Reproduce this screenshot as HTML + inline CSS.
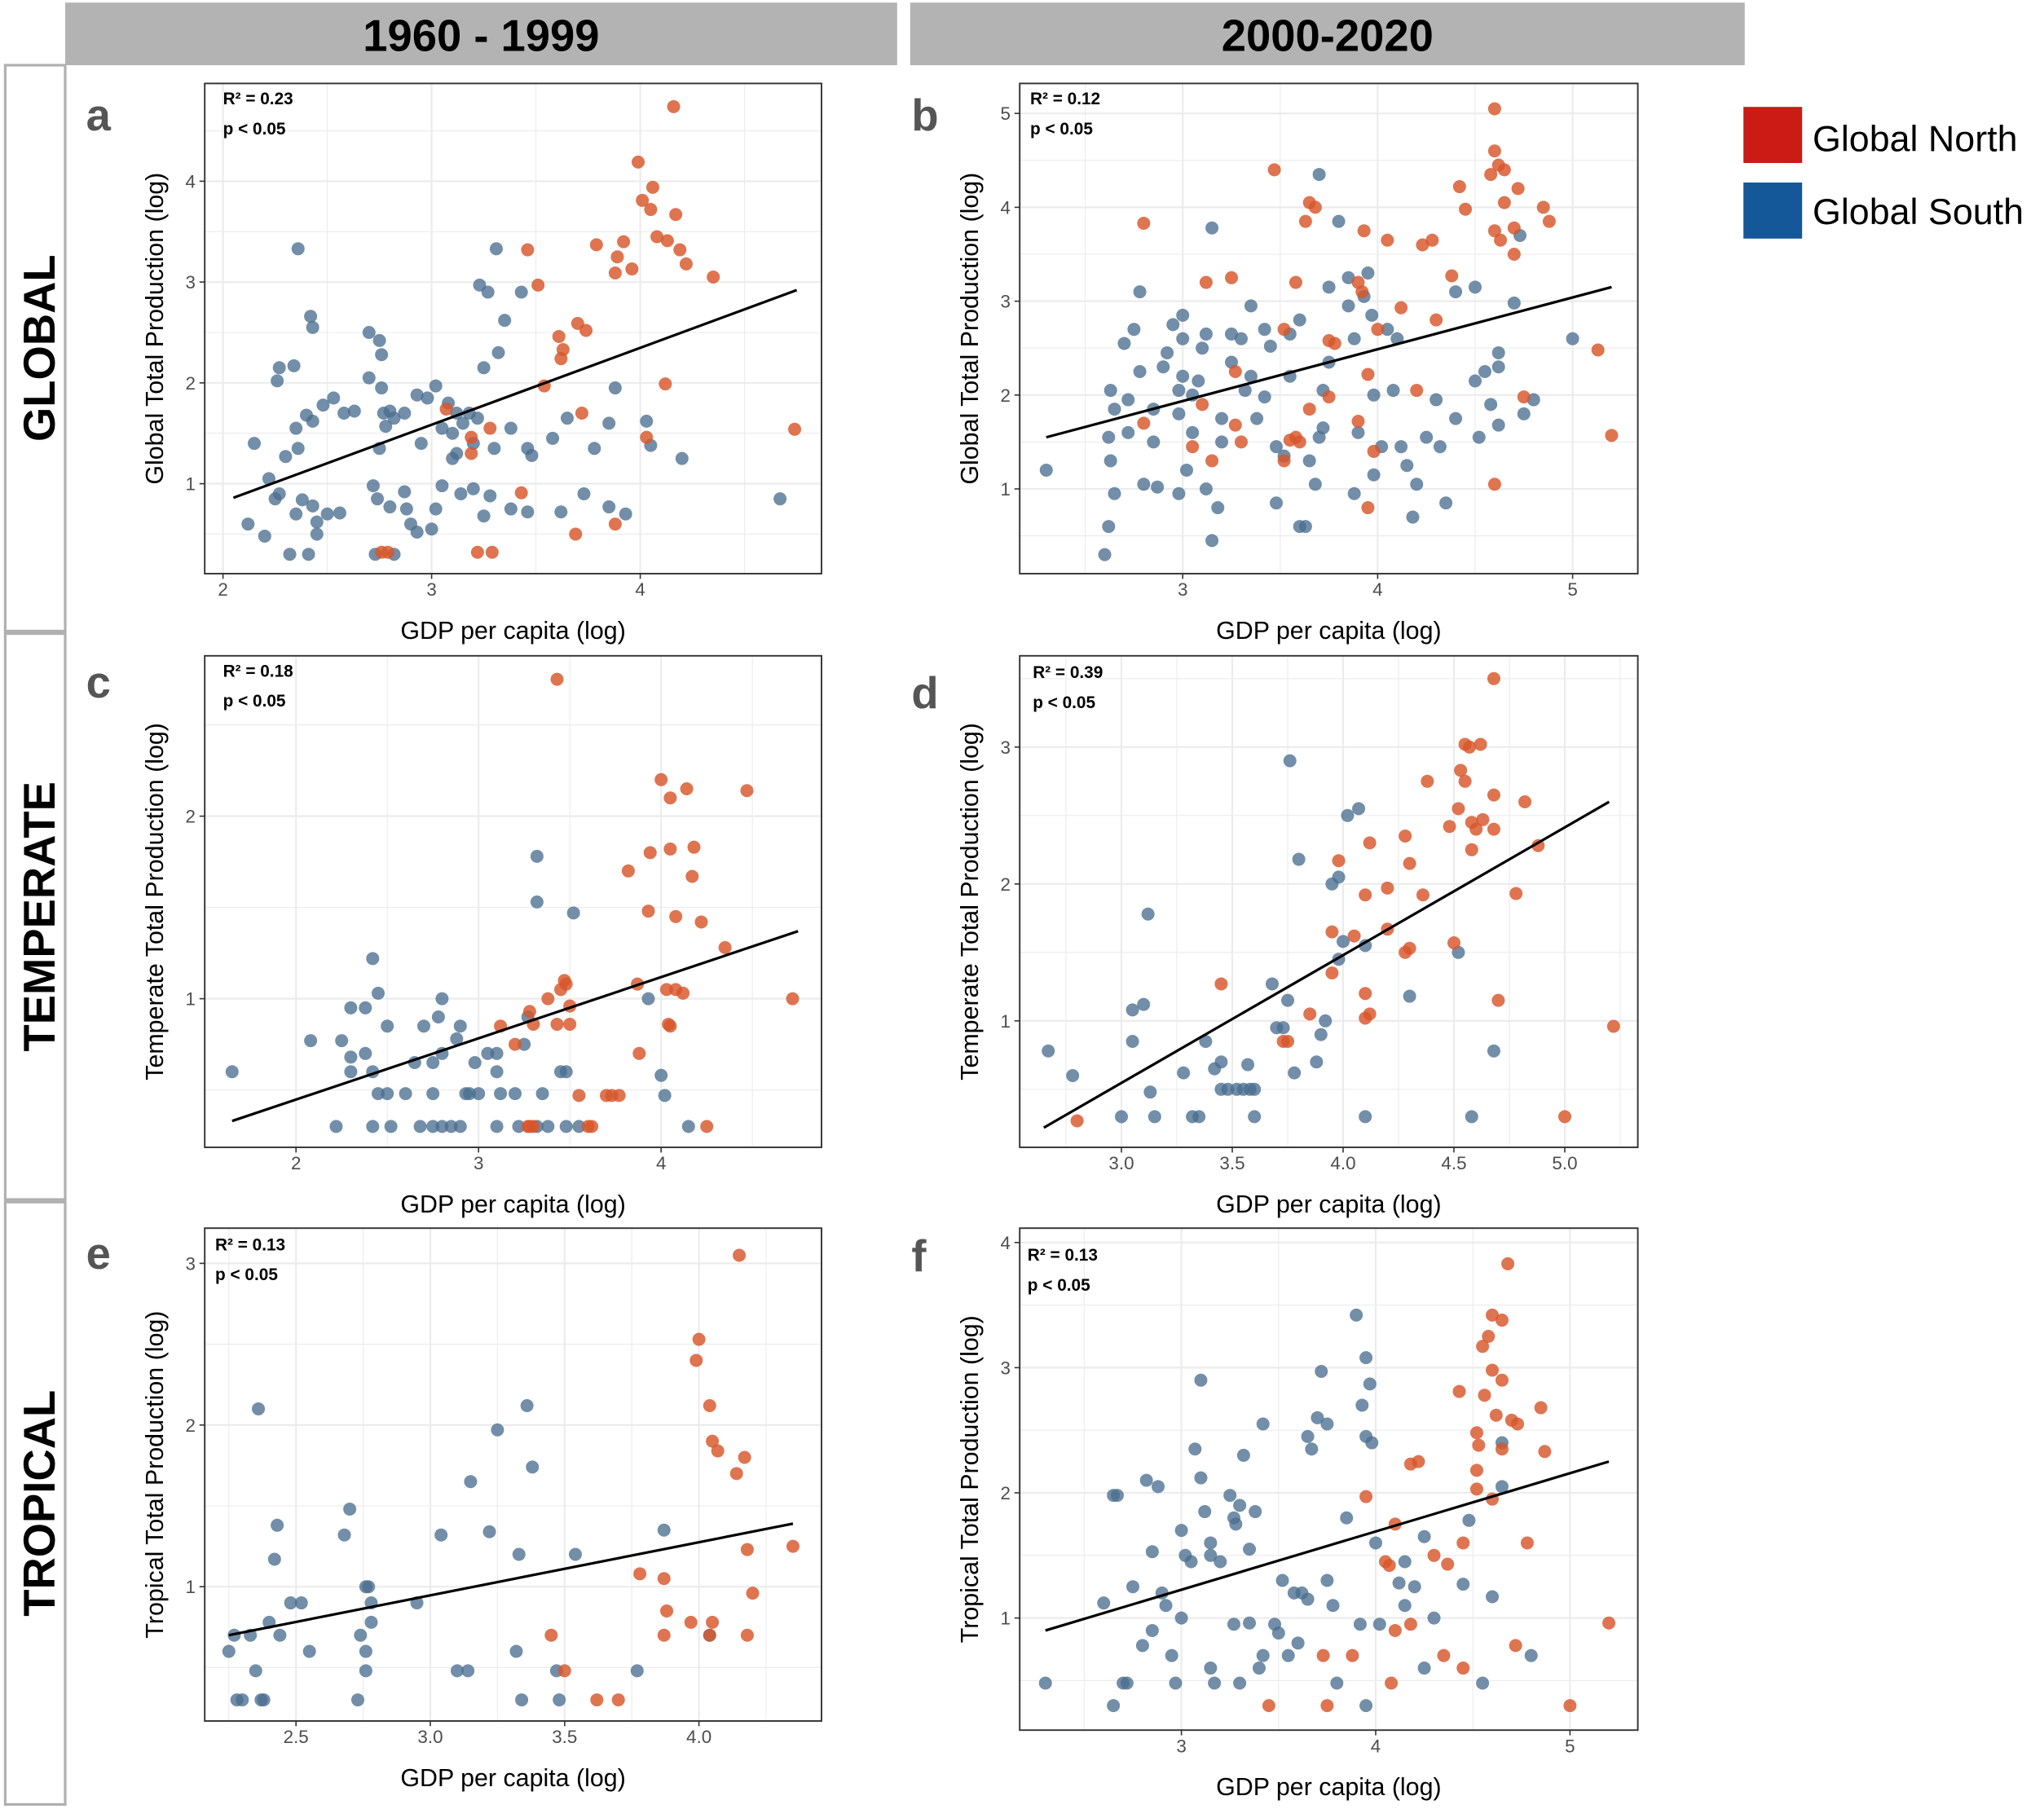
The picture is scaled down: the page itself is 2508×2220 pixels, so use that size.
<!DOCTYPE html>
<html><head><meta charset="utf-8"><style>
html,body{margin:0;padding:0;background:#fff;}
svg{display:block;font-family:"Liberation Sans",Arial,sans-serif;}
</style></head><body>
<svg id="fig" width="2508" height="2220" viewBox="0 0 1567.5 1387.5" xmlns="http://www.w3.org/2000/svg">
<rect x="0" y="0" width="1567.5" height="1387.5" fill="#fff"/>
<rect x="50" y="2" width="638" height="48" fill="#b3b3b3"/>
<text x="369" y="39" font-size="34" font-weight="bold" text-anchor="middle">1960 - 1999</text>
<rect x="698" y="2" width="640" height="48" fill="#b3b3b3"/>
<text x="1018" y="39" font-size="34" font-weight="bold" text-anchor="middle">2000-2020</text>
<rect x="4" y="50" width="46" height="434" fill="#fff" stroke="#b0b0b0" stroke-width="2"/>
<text transform="translate(42,267) rotate(-90)" font-size="34" font-weight="bold" text-anchor="middle">GLOBAL</text>
<rect x="4" y="486" width="46" height="434" fill="#fff" stroke="#b0b0b0" stroke-width="2"/>
<text transform="translate(42,703) rotate(-90)" font-size="34" font-weight="bold" text-anchor="middle">TEMPERATE</text>
<rect x="4" y="922" width="46" height="462" fill="#fff" stroke="#b0b0b0" stroke-width="2"/>
<text transform="translate(42,1153) rotate(-90)" font-size="34" font-weight="bold" text-anchor="middle">TROPICAL</text>
<g>
<rect x="1337" y="82" width="45" height="43" fill="#cc1a14"/>
<text x="1390" y="116" font-size="28">Global North</text>
<rect x="1337" y="140" width="45" height="43" fill="#15589a"/>
<text x="1390" y="172" font-size="28">Global South</text>
</g>
<g id="panels"></g>
</svg>
<script>
const northA=[[4.16,4.74],[3.99,4.19],[4.06,3.94],[4.01,3.81],[4.05,3.72],[4.17,3.67],[3.92,3.40],[3.79,3.37],[4.08,3.45],[4.13,3.41],[4.19,3.32],[3.89,3.25],[3.96,3.13],[4.22,3.18],[3.88,3.09],[4.35,3.05],[3.46,3.32],[3.51,2.97],[3.70,2.59],[3.74,2.52],[3.61,2.46],[3.63,2.33],[3.62,2.24],[3.54,1.97],[4.12,1.99],[3.72,1.70],[3.07,1.74],[3.19,1.46],[3.28,1.55],[3.19,1.30],[4.03,1.46],[4.74,1.54],[3.43,0.91],[3.69,0.50],[3.88,0.60],[2.76,0.32],[2.79,0.32],[3.22,0.32],[3.29,0.32]];
const southA=[[2.36,3.33],[3.31,3.33],[3.43,2.9],[3.27,2.9],[3.23,2.97],[3.35,2.62],[2.42,2.66],[2.43,2.55],[2.7,2.5],[2.75,2.42],[2.76,2.28],[2.27,2.15],[2.34,2.17],[2.26,2.02],[2.15,1.4],[2.22,1.05],[2.25,0.85],[2.27,0.9],[2.12,0.6],[2.2,0.48],[2.32,0.3],[2.41,0.3],[2.35,0.7],[2.38,0.84],[2.43,0.78],[2.45,0.62],[2.5,0.7],[2.56,0.71],[2.45,0.5],[2.3,1.27],[2.36,1.35],[2.35,1.55],[2.4,1.68],[2.43,1.62],[2.48,1.78],[2.53,1.85],[2.58,1.7],[2.63,1.72],[2.7,2.05],[2.76,1.95],[2.8,1.72],[2.82,1.65],[2.87,1.7],[2.77,1.7],[2.78,1.57],[2.75,1.35],[2.72,0.98],[2.74,0.85],[2.8,0.77],[2.87,0.92],[2.88,0.75],[2.9,0.6],[2.93,0.52],[2.73,0.3],[2.82,0.3],[2.93,1.88],[2.98,1.85],[3.02,1.97],[3.08,1.8],[3.12,1.7],[3.05,1.55],[3.1,1.5],[3.15,1.6],[3.18,1.7],[3.2,1.4],[3.1,1.25],[3.12,1.3],[3.22,1.65],[3.25,2.15],[3.32,2.3],[3.3,1.35],[3.38,1.55],[3.46,1.35],[3.48,1.28],[3.02,0.75],[3.05,0.98],[3.14,0.9],[3.2,0.95],[3.25,0.68],[3.28,0.88],[3.38,0.75],[3.46,0.72],[3.58,1.45],[3.62,0.72],[3.73,0.9],[3.78,1.35],[3.85,1.6],[3.85,0.77],[3.93,0.7],[3.88,1.95],[4.03,1.62],[4.05,1.38],[4.2,1.25],[4.67,0.85],[3.65,1.65],[3.0,0.55],[2.95,1.4]];
const northB=[[4.6,5.05],[4.6,4.6],[4.62,4.45],[4.65,4.4],[4.58,4.35],[4.42,4.22],[4.72,4.2],[3.47,4.4],[3.65,4.05],[3.68,4.0],[3.63,3.85],[2.8,3.83],[4.45,3.98],[4.65,4.05],[4.85,4.0],[4.88,3.85],[4.6,3.75],[4.7,3.78],[4.63,3.65],[4.7,3.5],[4.23,3.6],[4.28,3.65],[4.05,3.65],[3.93,3.75],[4.38,3.27],[3.25,3.25],[3.58,3.2],[3.12,3.2],[3.9,3.2],[3.92,3.1],[4.12,2.93],[4.0,2.7],[4.3,2.8],[3.52,2.7],[3.75,2.58],[3.78,2.55],[3.27,2.25],[3.95,2.22],[4.2,2.05],[3.75,1.98],[3.65,1.85],[3.9,1.72],[4.75,1.98],[5.13,2.48],[5.2,1.57],[3.27,1.68],[3.3,1.5],[3.55,1.52],[3.58,1.55],[3.6,1.5],[3.05,1.45],[3.15,1.3],[3.52,1.3],[3.98,1.4],[4.6,1.05],[3.95,0.8],[2.8,1.7],[3.1,1.9]];
const southB=[[2.3,1.2],[2.6,0.3],[2.62,0.6],[2.65,0.95],[2.63,1.3],[2.62,1.55],[2.65,1.85],[2.63,2.05],[2.7,2.55],[2.78,3.1],[2.75,2.7],[2.78,2.25],[2.72,1.95],[2.72,1.6],[2.8,1.05],[2.87,1.02],[2.85,1.5],[2.85,1.85],[2.9,2.3],[2.92,2.45],[2.95,2.75],[2.98,1.8],[2.98,2.05],[3.0,2.2],[3.0,2.6],[3.0,2.85],[3.02,1.2],[2.98,0.95],[3.05,1.6],[3.05,2.0],[3.08,2.15],[3.1,2.5],[3.12,2.65],[3.15,3.78],[3.12,1.0],[3.18,0.8],[3.15,0.45],[3.2,1.5],[3.2,1.75],[3.25,2.35],[3.25,2.65],[3.3,2.6],[3.32,2.05],[3.35,2.2],[3.38,1.75],[3.42,1.98],[3.42,2.7],[3.45,2.52],[3.35,2.95],[3.48,0.85],[3.48,1.45],[3.52,1.35],[3.55,2.2],[3.55,2.65],[3.6,2.8],[3.6,0.6],[3.63,0.6],[3.65,1.3],[3.68,1.05],[3.7,1.55],[3.72,1.65],[3.72,2.05],[3.75,2.35],[3.75,3.15],[3.7,4.35],[3.8,3.85],[3.85,3.25],[3.85,2.95],[3.88,2.6],[3.88,0.95],[3.9,1.6],[3.93,3.05],[3.95,3.3],[3.97,2.85],[3.98,2.0],[4.02,1.45],[4.05,2.7],[4.08,2.05],[4.12,1.45],[4.15,1.25],[4.18,0.7],[4.2,1.05],[4.25,1.55],[4.3,1.95],[4.32,1.45],[4.35,0.85],[4.4,1.75],[4.4,3.1],[4.5,2.15],[4.52,1.55],[4.5,3.15],[4.55,2.25],[4.62,2.45],[4.62,2.3],[4.58,1.9],[4.62,1.68],[4.73,3.7],[4.7,2.98],[4.75,1.8],[4.8,1.95],[5.0,2.6],[3.98,1.15],[4.1,2.6]];
const northC=[[3.43,2.75],[4.0,2.2],[4.05,2.1],[4.14,2.15],[4.47,2.14],[3.94,1.8],[4.05,1.82],[4.18,1.83],[3.82,1.7],[4.17,1.67],[3.93,1.48],[4.08,1.45],[4.22,1.42],[4.35,1.28],[3.87,1.08],[4.03,1.05],[4.08,1.05],[4.12,1.03],[3.47,1.1],[3.48,1.08],[3.45,1.05],[3.38,1.0],[3.5,0.96],[3.28,0.93],[3.3,0.86],[3.12,0.85],[3.43,0.86],[3.5,0.86],[3.88,0.7],[4.05,0.85],[4.04,0.86],[4.72,1.0],[3.55,0.47],[3.7,0.47],[3.73,0.47],[3.77,0.47],[3.27,0.3],[3.28,0.3],[3.3,0.3],[3.6,0.3],[3.62,0.3],[4.25,0.3],[3.2,0.75]];
const southC=[[1.65,0.6],[2.08,0.77],[2.25,0.77],[2.3,0.6],[2.3,0.68],[2.3,0.95],[2.38,0.95],[2.42,1.22],[2.45,1.03],[2.38,0.7],[2.5,0.85],[2.42,0.6],[2.45,0.48],[2.5,0.48],[2.22,0.3],[2.42,0.3],[2.52,0.3],[2.6,0.48],[2.65,0.65],[2.7,0.85],[2.68,0.3],[2.75,0.65],[2.75,0.48],[2.75,0.3],[2.78,0.9],[2.8,1.0],[2.8,0.7],[2.8,0.3],[2.88,0.78],[2.9,0.85],[2.85,0.3],[2.9,0.3],[2.93,0.48],[2.95,0.48],[2.98,0.65],[3.0,0.48],[3.05,0.7],[3.1,0.7],[3.1,0.6],[3.12,0.48],[3.1,0.3],[3.2,0.48],[3.22,0.3],[3.25,0.75],[3.27,0.9],[3.32,1.78],[3.32,1.53],[3.35,0.48],[3.32,0.3],[3.38,0.3],[3.45,0.6],[3.48,0.6],[3.52,1.47],[3.55,0.3],[3.48,0.3],[4.0,0.58],[4.02,0.47],[4.15,0.3],[3.93,1.0]];
const northD=[[4.68,3.5],[4.55,3.02],[4.57,3.0],[4.62,3.02],[4.53,2.83],[4.55,2.75],[4.38,2.75],[4.68,2.65],[4.82,2.6],[4.52,2.55],[4.48,2.42],[4.58,2.45],[4.63,2.47],[4.6,2.4],[4.68,2.4],[4.28,2.35],[4.12,2.3],[4.58,2.25],[4.88,2.28],[3.98,2.17],[4.3,2.15],[4.2,1.97],[4.1,1.92],[4.36,1.92],[4.78,1.93],[3.95,1.65],[4.05,1.62],[4.2,1.67],[4.28,1.5],[4.3,1.53],[4.5,1.57],[3.95,1.35],[3.45,1.27],[4.1,1.2],[4.12,1.05],[4.1,1.02],[3.85,1.05],[4.7,1.15],[3.73,0.85],[3.75,0.85],[2.8,0.27],[5.0,0.3],[5.22,0.96]];
const southD=[[2.67,0.78],[2.78,0.6],[3.05,1.08],[3.1,1.12],[3.12,1.78],[3.05,0.85],[3.0,0.3],[3.13,0.48],[3.15,0.3],[3.28,0.62],[3.32,0.3],[3.35,0.3],[3.38,0.85],[3.42,0.65],[3.45,0.5],[3.48,0.5],[3.45,0.7],[3.52,0.5],[3.55,0.5],[3.58,0.5],[3.6,0.5],[3.57,0.68],[3.6,0.3],[3.68,1.27],[3.7,0.95],[3.73,0.95],[3.75,1.15],[3.76,2.9],[3.8,2.18],[3.78,0.62],[3.88,0.7],[3.9,0.9],[3.92,1.0],[3.95,2.0],[3.98,2.05],[3.98,1.45],[4.0,1.58],[4.02,2.5],[4.07,2.55],[4.1,1.55],[4.1,0.3],[4.3,1.18],[4.52,1.5],[4.58,0.3],[4.68,0.78]];
const northE=[[4.15,3.05],[4.0,2.53],[3.99,2.4],[4.04,2.12],[4.05,1.9],[4.07,1.84],[4.17,1.8],[4.14,1.7],[3.78,1.08],[3.87,1.05],[4.18,1.23],[4.35,1.25],[3.88,0.85],[3.87,0.7],[3.97,0.78],[4.05,0.78],[4.04,0.7],[4.2,0.96],[4.18,0.7],[3.45,0.7],[3.5,0.48],[3.62,0.3],[3.7,0.3]];
const southE=[[2.25,0.6],[2.27,0.7],[2.28,0.3],[2.3,0.3],[2.33,0.7],[2.36,2.1],[2.35,0.48],[2.37,0.3],[2.38,0.3],[2.4,0.78],[2.42,1.17],[2.43,1.38],[2.44,0.7],[2.48,0.9],[2.52,0.9],[2.55,0.6],[2.68,1.32],[2.7,1.48],[2.73,0.3],[2.74,0.7],[2.76,1.0],[2.77,1.0],[2.76,0.6],[2.76,0.48],[2.78,0.9],[2.78,0.78],[2.95,0.9],[3.04,1.32],[3.1,0.48],[3.14,0.48],[3.15,1.65],[3.22,1.34],[3.25,1.97],[3.33,1.2],[3.32,0.6],[3.34,0.3],[3.36,2.12],[3.38,1.74],[3.47,0.48],[3.48,0.3],[3.54,1.2],[3.77,0.48],[3.87,1.35],[4.04,0.7]];
const northF=[[4.68,3.83],[4.6,3.42],[4.65,3.38],[4.58,3.25],[4.55,3.17],[4.6,2.98],[4.65,2.9],[4.56,2.78],[4.43,2.81],[4.62,2.62],[4.7,2.58],[4.73,2.55],[4.85,2.68],[4.52,2.48],[4.53,2.38],[4.87,2.33],[4.65,2.35],[4.52,2.18],[4.52,2.03],[4.6,1.95],[4.18,2.23],[4.22,2.25],[3.95,1.97],[4.1,1.75],[4.45,1.6],[4.3,1.5],[4.37,1.43],[4.78,1.6],[4.05,1.45],[4.07,1.42],[4.18,0.95],[4.1,0.9],[4.35,0.7],[4.45,0.6],[4.72,0.78],[3.73,0.7],[3.88,0.7],[3.75,0.3],[4.08,0.48],[5.2,0.96],[5.0,0.3],[3.45,0.3]];
const southF=[[2.3,0.48],[2.6,1.12],[2.65,1.98],[2.67,1.98],[2.75,1.25],[2.8,0.78],[2.85,1.53],[2.82,2.1],[2.88,2.05],[2.85,0.9],[2.9,1.2],[2.92,1.1],[2.95,0.7],[2.7,0.48],[2.65,0.3],[2.72,0.48],[2.97,0.48],[3.0,1.7],[3.0,1.0],[3.02,1.5],[3.05,1.45],[3.07,2.35],[3.1,2.9],[3.1,2.12],[3.12,1.85],[3.15,1.5],[3.15,1.6],[3.15,0.6],[3.17,0.48],[3.2,1.45],[3.25,1.98],[3.27,1.8],[3.28,1.75],[3.3,1.9],[3.32,2.3],[3.35,1.55],[3.27,0.95],[3.3,0.48],[3.38,1.85],[3.42,2.55],[3.35,0.96],[3.4,0.6],[3.42,0.7],[3.48,0.95],[3.5,0.88],[3.52,1.3],[3.55,0.7],[3.58,1.2],[3.6,0.8],[3.62,1.2],[3.65,1.15],[3.65,2.45],[3.67,2.35],[3.7,2.6],[3.72,2.97],[3.75,1.3],[3.75,2.55],[3.78,1.1],[3.8,0.48],[3.85,1.8],[3.9,3.42],[3.93,2.7],[3.95,3.08],[3.97,2.87],[3.95,2.45],[3.98,2.4],[3.92,0.95],[3.95,0.3],[4.0,1.6],[4.02,0.95],[4.12,1.28],[4.15,1.45],[4.15,1.1],[4.2,1.25],[4.25,1.65],[4.25,0.6],[4.3,1.0],[4.45,1.27],[4.48,1.78],[4.55,0.48],[4.6,1.17],[4.65,2.05],[4.65,2.4],[4.8,0.7]];
const fitA=[[2.05,0.86],[4.75,2.92]];
const fitB=[[2.3,1.55],[5.2,3.15]];
const fitC=[[1.65,0.33],[4.75,1.37]];
const fitD=[[2.65,0.22],[5.2,2.6]];
const fitE=[[2.25,0.7],[4.35,1.39]];
const fitF=[[2.3,0.9],[5.2,2.25]];
const xTicksA=[2,3,4], yTicksA=[1,2,3,4];
const xTicksB=[3,4,5], yTicksB=[1,2,3,4,5];
const xTicksC=[2,3,4], yTicksC=[1,2];
const xTicksD=[3.0,3.5,4.0,4.5,5.0], yTicksD=[1,2,3];
const xTicksE=[2.5,3.0,3.5,4.0], yTicksE=[1,2,3];
const xTicksF=[3,4,5], yTicksF=[1,2,3,4];
const statsR=["0.23","0.12","0.18","0.39","0.13","0.13"];
const yTitles=["Global Total Production (log)","Global Total Production (log)","Temperate Total Production (log)","Temperate Total Production (log)","Tropical Total Production (log)","Tropical Total Production (log)"];

const NS="http://www.w3.org/2000/svg";
const root=document.getElementById('panels');
function mk(tag,attrs,parent){const e=document.createElementNS(NS,tag);for(const k in attrs)e.setAttribute(k,attrs[k]);(parent||root).appendChild(e);return e;}
// layout: box, and two calibration points per axis [value,px]
const panels=[
 {id:'a',box:[157,64,630,440],xc:[[2,171],[4,491]],yc:[[1,371],[4,139]],xt:xTicksA,yt:yTicksA,fx:1,fy:1,n:northA,s:southA,fit:fitA,lx:66,ly:100,sx:171,sy:80},
 {id:'b',box:[782,64,1256,440],xc:[[3,907],[5,1206]],yc:[[1,375],[5,87]],xt:xTicksB,yt:yTicksB,fx:1,fy:1,n:northB,s:southB,fit:fitB,lx:699,ly:100,sx:790,sy:80},
 {id:'c',box:[157,503,630,880],xc:[[2,227],[4,507]],yc:[[1,766],[2,626]],xt:xTicksC,yt:yTicksC,fx:1,fy:1,n:northC,s:southC,fit:fitC,lx:66,ly:535,sx:171,sy:519},
 {id:'d',box:[782,503,1256,880],xc:[[3,860],[5,1200]],yc:[[1,783],[3,573]],xt:xTicksD,yt:yTicksD,fx:2,fy:1,n:northD,s:southD,fit:fitD,lx:699,ly:543,sx:792,sy:520},
 {id:'e',box:[157,942,630,1320],xc:[[2.5,227],[4,536]],yc:[[1,1217],[3,969]],xt:xTicksE,yt:yTicksE,fx:2,fy:1,n:northE,s:southE,fit:fitE,lx:66,ly:973,sx:165,sy:959},
 {id:'f',box:[782,942,1256,1327],xc:[[3,906],[5,1204]],yc:[[1,1241],[4,953]],xt:xTicksF,yt:yTicksF,fx:1,fy:1,n:northF,s:southF,fit:fitF,lx:699,ly:975,sx:788,sy:967}
];
panels.forEach((p,i)=>{
 const [x0,y0,x1,y1]=p.box;
 const sx=(p.xc[1][1]-p.xc[0][1])/(p.xc[1][0]-p.xc[0][0]);
 const sy=(p.yc[1][1]-p.yc[0][1])/(p.yc[1][0]-p.yc[0][0]);
 const X=v=>p.xc[0][1]+(v-p.xc[0][0])*sx;
 const Y=v=>p.yc[0][1]+(v-p.yc[0][0])*sy;
 const g=mk('g',{});
 
 
 const clipId='clip'+p.id;
 const cp=mk('clipPath',{id:clipId},g);
 mk('rect',{x:x0,y:y0,width:x1-x0,height:y1-y0},cp);
 mk('rect',{x:x0,y:y0,width:x1-x0,height:y1-y0,fill:'#fff'},g);
 const grid=mk('g',{'clip-path':'url(#'+clipId+')'},g);
 
 
 const dx=p.xt[1]-p.xt[0], dy=p.yt[1]-p.yt[0];
 for(let k=-6;k<=(p.xt.length+6)*2;k++){const v=p.xt[0]+(k/2)*dx;const px=X(v);if(px<x0||px>x1)continue;
   mk('line',{x1:px,y1:y0,x2:px,y2:y1,stroke:'#ebebeb','stroke-width':k%2===0?1.3:0.7},grid);}
 for(let k=-6;k<=(p.yt.length+6)*2;k++){const v=p.yt[0]+(k/2)*dy;const py=Y(v);if(py<y0||py>y1)continue;
   mk('line',{x1:x0,y1:py,x2:x1,y2:py,stroke:'#ebebeb','stroke-width':k%2===0?1.3:0.7},grid);}
 const pts=mk('g',{'clip-path':'url(#'+clipId+')'},g);
 p.s.forEach(d=>{const c=mk('circle',{cx:X(d[0]),cy:Y(d[1]),r:5,fill:'#4a6e90','fill-opacity':0.78},pts);
   
   });
 p.n.forEach(d=>{const c=mk('circle',{cx:X(d[0]),cy:Y(d[1]),r:5,fill:'#d8552a','fill-opacity':0.82},pts);
   
   });
 const ln=mk('line',{x1:X(p.fit[0][0]),y1:Y(p.fit[0][1]),x2:X(p.fit[1][0]),y2:Y(p.fit[1][1]),stroke:'#000','stroke-width':2},g);
 
 
 mk('rect',{x:x0,y:y0,width:x1-x0,height:y1-y0,fill:'none',stroke:'#333','stroke-width':1.2},g);
 p.xt.forEach(v=>{const px=X(v);mk('line',{x1:px,y1:y1,x2:px,y2:y1+4,stroke:'#333','stroke-width':1},g);
   const t=mk('text',{x:px,y:y1+17,'font-size':14,fill:'#4d4d4d','text-anchor':'middle'},g);t.textContent=v.toFixed(p.fx===2?1:0);
   
   });
 p.yt.forEach(v=>{const py=Y(v);mk('line',{x1:x0-4,y1:py,x2:x0,y2:py,stroke:'#333','stroke-width':1},g);
   const t=mk('text',{x:x0-7,y:py+5,'font-size':14,fill:'#4d4d4d','text-anchor':'end'},g);t.textContent=String(v);
   
   });
 const xt=mk('text',{x:(x0+x1)/2,y:y1+50,'font-size':19,'text-anchor':'middle'},g);xt.textContent='GDP per capita (log)';
 
 
 const yt=mk('text',{transform:'translate('+(x0-32)+','+((y0+y1)/2)+') rotate(-90)','font-size':19,'text-anchor':'middle'},g);yt.textContent=yTitles[i];
 
 
 const lt=mk('text',{x:p.lx,y:p.ly,'font-size':34,'font-weight':'bold',fill:'#555'},g);lt.textContent=p.id;
 
 
 const r=mk('text',{x:p.sx,y:p.sy,'font-size':13,'font-weight':'bold'},g);r.textContent='R² = '+statsR[i];
 
 
 const pv=mk('text',{x:p.sx,y:p.sy+23,'font-size':13,'font-weight':'bold'},g);pv.textContent='p < 0.05';
 
 
});
</script>
</body></html>
